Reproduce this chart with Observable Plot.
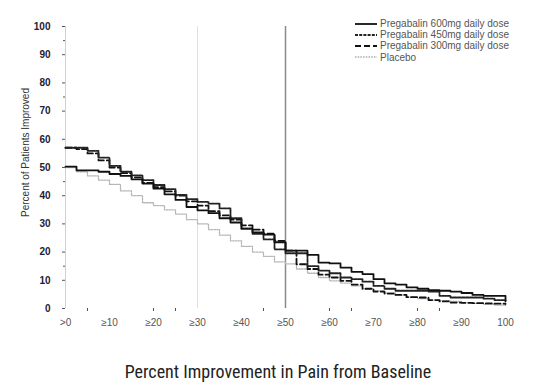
<!DOCTYPE html>
<html><head><meta charset="utf-8">
<script src="https://cdn.jsdelivr.net/npm/d3@7"></script>
<script src="https://cdn.jsdelivr.net/npm/@observablehq/plot@0.6"></script>
<style>
body{margin:0;background:#fff;width:556px;height:388px;overflow:hidden;position:relative;font-family:"Liberation Sans",Arial,sans-serif}
#chart{position:absolute;left:0;top:0}
#caption{position:absolute;top:361px;left:0;width:556px;text-align:center;font-family:"Liberation Sans Narrow","Roboto Condensed","Arial Narrow",sans-serif;font-size:18px;color:#222;line-height:22px}
#legend{position:absolute;left:355px;top:18px;font-size:10px;color:#555}
#legend .row{height:11.2px;line-height:11.2px;display:flex;align-items:center;white-space:nowrap}
#legend svg{margin-right:3px}
</style>
</head><body>
<div id="chart"></div>
<div id="legend"></div>
<div id="caption">Percent Improvement in Pain from Baseline</div>
<script>
// x grid of percent improvement (step points)
const improvement = [0,2.5,5,7.5,10,12.5,15,17.5,20,22.5,25,27.5,30,32.5,35,37.5,40,42.5,45,47.5,50,52.5,55,57.5,60,62.5,65,67.5,70,72.5,75,77.5,80,82.5,85,87.5,90,92.5,95,97.5,100];
const pregabalin600 = [50.3,49,49,48.5,47.7,47,45.8,44.3,42.5,40.5,38.5,36,34.8,33.8,32,30.5,28.3,27,26.2,23.5,20.5,20.5,19,16.3,16,14.5,13,12.2,10.4,8.9,8.5,7.5,7,6.5,6.3,6,5.5,4.8,4.5,4.5,2.8];
const pregabalin450 = [57,57,55.9,53.5,50.6,48.5,47.2,45.5,43.8,42.3,40.3,38.8,37.8,37.2,35.5,32,28.3,26.5,24.5,21,19.6,19.6,15,13.4,12.5,11,10.4,9.5,8,7,6.3,6.3,6.3,6,4.5,3.9,3.9,3.9,3.5,3,2.5];
const pregabalin300 = [57,56.5,55,52.5,50,48,46.5,44.5,43,41.5,40,38,36.5,34.5,33,31.5,29.5,28,26.5,24,20.5,15.7,14,12,11,9.8,8.5,7,6,5.3,4.8,4,3.9,3,2.5,2.1,2,1.9,1.8,1.7,1.6];
const placebo = [50,48.5,47,45.5,44,41.7,40,37.5,36.5,35,33.5,31.5,30,28,26,24,22,20,18.5,16.5,15.8,14,12.5,11,9.8,9,8,7,6.3,5.5,4.8,4,3.5,3,2.8,2.5,2,1.8,1.5,1.2,1];

const seriesNames = ["Pregabalin 600mg daily dose","Pregabalin 450mg daily dose","Pregabalin 300mg daily dose","Placebo"];
const seriesValues = [pregabalin600, pregabalin450, pregabalin300, placebo];
const seriesStyle = [
  {stroke:"#111", strokeWidth:1.8, dash:null, legendStroke:"#111"},
  {stroke:"#222", strokeWidth:1.8, dash:"3,1.2", legendStroke:"#222"},
  {stroke:"#111", strokeWidth:1.8, dash:"6,3", legendStroke:"#111"},
  {stroke:"#b5b5b5", strokeWidth:1.3, dash:"1.5,1.2", legendStroke:"#aaa"}
];

const xTickValues = [0,10,20,30,40,50,60,70,80,90,100];
const xTickLabels = [">0","≥10","≥20","≥30","≥40","≥50","≥60","≥70","≥80","≥90","100"];
const xMinorTicks = [5,20,25,45,60,65,80,85];
const yTickValues = [0,10,20,30,40,50,60,70,80,90,100];
const yMinorTicks = [95,75,45,15];
const referenceLines = [30,50];

const rows = seriesNames.map((name,i)=>improvement.map((x,j)=>({series:name, x, y:seriesValues[i][j]})));

const plot = Plot.plot({
  width:556, height:350,
  marginLeft:65, marginRight:51, marginTop:26, marginBottom:42,
  style:{fontFamily:"Liberation Sans, Arial, sans-serif", background:"#fff"},
  x:{domain:[0,100]},
  y:{domain:[0,100]},
  marks:[
    Plot.ruleX([0], {stroke:"#d0d0d0", strokeWidth:1}),
    Plot.ruleX([referenceLines[0]], {stroke:"#e0e0e0", strokeWidth:1}),
    Plot.ruleX([referenceLines[1]], {stroke:"#8a8a8a", strokeWidth:1.5}),
    ...rows.slice().reverse().map((r,k)=>{
      const i = rows.length-1-k;
      const s = seriesStyle[i];
      return Plot.line(r, {x:"x", y:"y", curve:"step-after", stroke:s.stroke, strokeWidth:s.strokeWidth, strokeDasharray:s.dash});
    }),
    Plot.axisY({ticks:yTickValues, tickSize:3, tickPadding:12, fontSize:10, fontWeight:"bold", fill:"#1e2035", stroke:"#555", label:null}),
    Plot.axisY({ticks:yMinorTicks, tickSize:2, tickFormat:()=>"", stroke:"#555", label:null}),
    Plot.axisX({ticks:xTickValues, tickSize:0, tickPadding:10, tickFormat:(d,i)=>xTickLabels[i], fontSize:10, fill:"#555", label:null}),
    Plot.axisX({ticks:xMinorTicks, tickSize:3, tickFormat:()=>"", stroke:"#555", label:null}),
    Plot.text(["Percent of Patients Improved"], {frameAnchor:"left", textAnchor:"middle", dx:-40, dy:-15, rotate:-90, fontSize:10, fill:"#333"})
  ]
});
document.getElementById("chart").appendChild(plot);

const legend = document.getElementById("legend");
seriesNames.forEach((name,i)=>{
  const s = seriesStyle[i];
  const row = document.createElement("div");
  row.className="row";
  row.innerHTML = `<svg width="22" height="8"><line x1="0" x2="22" y1="4" y2="4" stroke="${s.legendStroke}" stroke-width="${s.strokeWidth}" ${s.dash?`stroke-dasharray="${s.dash}"`:""}/></svg><span>${name}</span>`;
  legend.appendChild(row);
});
</script>
</body></html>
